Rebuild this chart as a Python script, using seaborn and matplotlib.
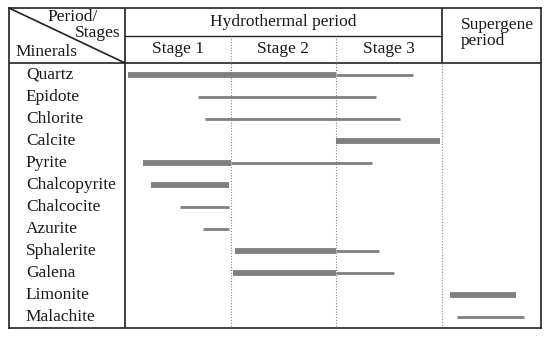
import numpy as np
import pandas as pd
import matplotlib
matplotlib.use("Agg")
import matplotlib.pyplot as plt
import seaborn as sns

sns.set_style("white")
plt.rcParams['font.family'] = ['Liberation Serif', 'DejaVu Serif']

# ---- data (x in stage units: Stage 1 = 0..1, Stage 2 = 1..2, Stage 3 = 2..3, supergene = 3..) ----
minerals = ["Quartz", "Epidote", "Chlorite", "Calcite", "Pyrite", "Chalcopyrite",
            "Chalcocite", "Azurite", "Sphalerite", "Galena", "Limonite", "Malachite"]
main_start = [0.03, np.nan, np.nan, 2.00, 0.17, 0.25, np.nan, np.nan, 1.04, 1.02, 3.08, np.nan]
main_end   = [2.00, np.nan, np.nan, 2.99, 1.00, 0.985, np.nan, np.nan, 2.00, 2.00, 3.71, np.nan]
minor_start = [2.00, 0.69, 0.76, np.nan, 1.00, np.nan, 0.52, 0.74, 2.00, 2.00, np.nan, 3.15]
minor_end   = [2.73, 2.38, 2.61, np.nan, 2.34, np.nan, 0.985, 0.985, 2.41, 2.55, np.nan, 3.78]
stages = ["Stage 1", "Stage 2", "Stage 3"]
periods = ["Hydrothermal period", "Supergene\nperiod"]

df = pd.DataFrame({"mineral": minerals, "main_start": main_start, "main_end": main_end,
                   "minor_start": minor_start, "minor_end": minor_end})
df["row"] = np.arange(len(df))

# layout
x_left, x_right = -1.10, 3.943
y_top, y_bottom = -3.045, 11.5
y_head = -0.545
y_sub = -1.77
bar_col = "#808080"
line_col = "#222222"
txt_col = "#1a1a1a"
fs = 12.5

fig = plt.figure(figsize=(5.5, 3.38), dpi=100)
ax = fig.add_axes([9/550, 1 - 328/338, 532/550, 320/338])
ax.set_xlim(x_left, x_right)
ax.set_ylim(y_bottom, y_top)
ax.set_xticks([])
ax.set_yticks([])
for s in ax.spines.values():
    s.set_color(line_col)
    s.set_linewidth(1.2)

# bars
m = df.dropna(subset=["main_start"])
ax.hlines(m["row"], m["main_start"], m["main_end"], color=bar_col, lw=4.2, capstyle="butt", zorder=3)
n = df.dropna(subset=["minor_start"])
ax.hlines(n["row"], n["minor_start"], n["minor_end"], color=bar_col, lw=2.0, capstyle="butt", zorder=3)

# table lines
ax.plot([x_left, x_right], [y_head, y_head], color=line_col, lw=1.2)
ax.plot([0, 3], [y_sub, y_sub], color=line_col, lw=1.0)
ax.plot([0, 0], [y_top, y_bottom], color=line_col, lw=1.2)
ax.plot([3, 3], [y_top, y_head], color=line_col, lw=1.2)
ax.plot([3, 3], [y_head, y_bottom], color="#888888", lw=0.8, ls=(0, (1, 1.5)))
for xb in [1, 2]:
    ax.plot([xb, xb], [y_sub, y_bottom], color="#888888", lw=0.8, ls=(0, (1, 1.5)))
ax.plot([x_left, 0], [y_top, y_head], color=line_col, lw=1.2)

# texts
for i, name in enumerate(minerals):
    ax.text(-0.94, i, name, ha="left", va="center", fontsize=fs, color=txt_col)
for i, st in enumerate(stages):
    ax.text(i + 0.5, -1.18, st, ha="center", va="center", fontsize=fs, color=txt_col)
ax.text(1.5, -2.41, periods[0], ha="center", va="center", fontsize=fs, color=txt_col)
ax.text(3.18, -1.886, periods[1], ha="left", va="center", fontsize=fs, color=txt_col,
        linespacing=1.0)
ax.text(-0.50, -2.64, "Period/", ha="center", va="center", fontsize=fs, color=txt_col)
ax.text(-0.045, -1.91, "Stages", ha="right", va="center", fontsize=fs, color=txt_col)
ax.text(-1.035, -1.045, "Minerals", ha="left", va="center", fontsize=fs, color=txt_col)

fig.savefig("out.png", dpi=100)
